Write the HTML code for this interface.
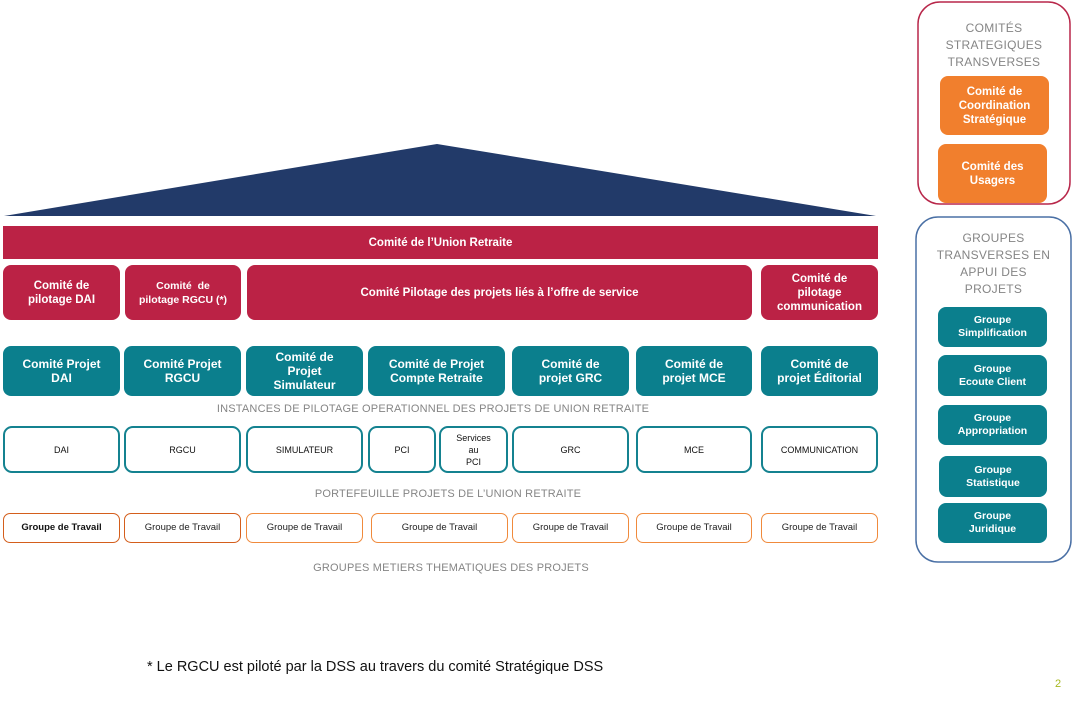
<!DOCTYPE html>
<html><head><meta charset="utf-8"><style>
*{margin:0;padding:0;box-sizing:border-box}
body{width:1075px;height:705px;background:#fff;position:relative;overflow:hidden;font-family:"Liberation Sans","DejaVu Sans",sans-serif}
.b{position:absolute;display:flex;align-items:center;justify-content:center;text-align:center;color:#fff;font-weight:bold;font-size:11.5px;line-height:14px}
.r{background:#bb2245;border-radius:8px}
.t{background:#0b7f8d;border-radius:8px;font-size:12px}
.o{background:#f17f2d;border-radius:8px}
.ot{border:2px solid #148290;border-radius:9px;color:#111;font-weight:normal;font-size:9px;line-height:12px}
.og{border:1.5px solid #f08a3c;border-radius:7px;color:#222;font-weight:normal;font-size:9.5px}
.lab{position:absolute;color:#858585;font-size:11px;letter-spacing:0.2px;white-space:nowrap;transform:translateX(-50%)}
.pt{position:absolute;color:#858585;font-size:12px;letter-spacing:0.3px;line-height:17px;text-align:center}
</style></head><body>
<svg style="position:absolute;left:0;top:0" width="1075" height="705">
<polygon points="4,216 437,144 876,216" fill="#223a69"/>
<rect x="918" y="2" width="152" height="202" rx="22" fill="none" stroke="#b8274a" stroke-width="1.5"/>
<rect x="916" y="217" width="155" height="345" rx="22" fill="none" stroke="#4a70a5" stroke-width="1.5"/>
</svg>

<div class="b r" style="left:3px;top:226px;width:875px;height:33px;border-radius:0">Comité de l’Union Retraite</div>

<div class="b r" style="left:3px;top:265px;width:117px;height:55px">Comité de<br>pilotage DAI</div>
<div class="b r" style="left:125px;top:265px;width:116px;height:55px;font-size:10.5px">Comité&nbsp; de<br>pilotage RGCU (*)</div>
<div class="b r" style="left:247px;top:265px;width:505px;height:55px">Comité Pilotage des projets liés à l’offre de service</div>
<div class="b r" style="left:761px;top:265px;width:117px;height:55px">Comité de<br>pilotage<br>communication</div>

<div class="b t" style="left:3px;top:346px;width:117px;height:50px">Comité Projet<br>DAI</div>
<div class="b t" style="left:124px;top:346px;width:117px;height:50px">Comité Projet<br>RGCU</div>
<div class="b t" style="left:246px;top:346px;width:117px;height:50px">Comité de<br>Projet<br>Simulateur</div>
<div class="b t" style="left:368px;top:346px;width:137px;height:50px">Comité de Projet<br>Compte Retraite</div>
<div class="b t" style="left:512px;top:346px;width:117px;height:50px">Comité de<br>projet GRC</div>
<div class="b t" style="left:636px;top:346px;width:116px;height:50px">Comité de<br>projet MCE</div>
<div class="b t" style="left:761px;top:346px;width:117px;height:50px">Comité de<br>projet Éditorial</div>

<div class="lab" style="left:433px;top:403px">INSTANCES DE PILOTAGE OPERATIONNEL DES PROJETS DE UNION RETRAITE</div>

<div class="b ot" style="left:3px;top:426px;width:117px;height:47px">DAI</div>
<div class="b ot" style="left:124px;top:426px;width:117px;height:47px">RGCU</div>
<div class="b ot" style="left:246px;top:426px;width:117px;height:47px">SIMULATEUR</div>
<div class="b ot" style="left:368px;top:426px;width:68px;height:47px">PCI</div>
<div class="b ot" style="left:439px;top:426px;width:69px;height:47px">Services<br>au<br>PCI</div>
<div class="b ot" style="left:512px;top:426px;width:117px;height:47px">GRC</div>
<div class="b ot" style="left:636px;top:426px;width:116px;height:47px">MCE</div>
<div class="b ot" style="left:761px;top:426px;width:117px;height:47px">COMMUNICATION</div>

<div class="lab" style="left:448px;top:488px">PORTEFEUILLE PROJETS DE L’UNION RETRAITE</div>

<div class="b og" style="left:3px;top:513px;width:117px;height:30px;border-color:#d45e1c;font-weight:bold;color:#111">Groupe de Travail</div>
<div class="b og" style="left:124px;top:513px;width:117px;height:30px;border-color:#d45e1c">Groupe de Travail</div>
<div class="b og" style="left:246px;top:513px;width:117px;height:30px">Groupe de Travail</div>
<div class="b og" style="left:371px;top:513px;width:137px;height:30px">Groupe de Travail</div>
<div class="b og" style="left:512px;top:513px;width:117px;height:30px">Groupe de Travail</div>
<div class="b og" style="left:636px;top:513px;width:116px;height:30px">Groupe de Travail</div>
<div class="b og" style="left:761px;top:513px;width:117px;height:30px">Groupe de Travail</div>

<div class="lab" style="left:451px;top:562px">GROUPES METIERS THEMATIQUES DES PROJETS</div>

<div style="position:absolute;left:147px;top:659px;font-size:14.5px;color:#111;white-space:nowrap">* Le RGCU est piloté par la DSS au travers du comité Stratégique DSS</div>
<div style="position:absolute;left:1055px;top:678px;font-size:11px;color:#a7b820">2</div>

<div class="pt" style="left:918px;top:20px;width:152px">COMITÉS<br>STRATEGIQUES<br>TRANSVERSES</div>
<div class="b o" style="left:940px;top:76px;width:109px;height:59px">Comité de<br>Coordination<br>Stratégique</div>
<div class="b o" style="left:938px;top:144px;width:109px;height:59px">Comité des<br>Usagers</div>

<div class="pt" style="left:916px;top:230px;width:155px">GROUPES<br>TRANSVERSES EN<br>APPUI DES<br>PROJETS</div>
<div class="b t" style="left:938px;top:307px;width:109px;height:40px;font-size:10.5px;line-height:13px">Groupe<br>Simplification</div>
<div class="b t" style="left:938px;top:355px;width:109px;height:41px;font-size:10.5px;line-height:13px">Groupe<br>Ecoute Client</div>
<div class="b t" style="left:938px;top:405px;width:109px;height:40px;font-size:10.5px;line-height:13px">Groupe<br>Appropriation</div>
<div class="b t" style="left:939px;top:456px;width:108px;height:41px;font-size:10.5px;line-height:13px">Groupe<br>Statistique</div>
<div class="b t" style="left:938px;top:503px;width:109px;height:40px;font-size:10.5px;line-height:13px">Groupe<br>Juridique</div>
</body></html>
